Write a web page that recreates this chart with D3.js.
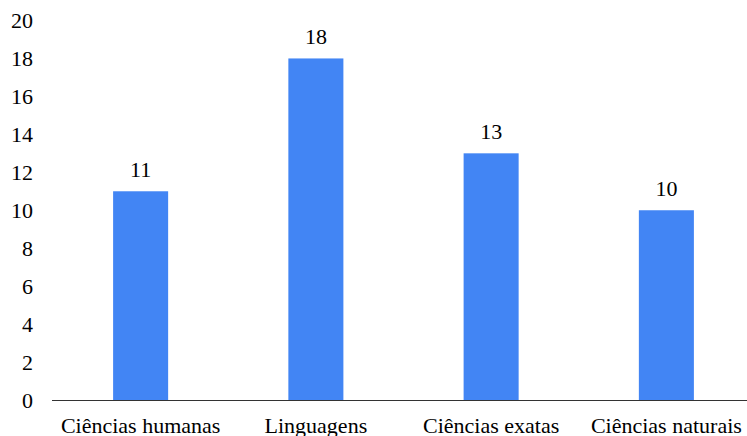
<!DOCTYPE html>
<html><head><meta charset="utf-8">
<script src="https://cdn.jsdelivr.net/npm/d3@7"></script>
</head>
<body style="margin:0;background:#fff">
<svg id="chart" width="747" height="436" font-family="Times New Roman, Tinos, Liberation Serif, serif" font-size="22" style="display:block"></svg>
<script>
const categories = ["Ciências humanas","Linguagens","Ciências exatas","Ciências naturais"];
const values = [11,18,13,10];
const yTicks = [0,2,4,6,8,10,12,14,16,18,20];

const svg = d3.select("#chart");
const x = d3.scaleBand().domain(categories).range([53, 754]).paddingInner(0.686).paddingOuter(0.343);
const y = d3.scaleLinear().domain([0,20]).range([400, 20.5]);

function styleText(sel){
  return sel.style("font-family", "Tinos, 'Times New Roman', 'Liberation Serif', serif").style("font-size","22px").style("fill","#000");
}

// bars
svg.append("g").selectAll("rect").data(values).join("rect")
  .attr("x", (d,i) => x(categories[i])).attr("width", x.bandwidth())
  .attr("y", d => y(d)).attr("height", d => y(0) - y(d))
  .attr("fill","#4285f4");

// x axis line
svg.append("line").attr("x1",52).attr("x2",747).attr("y1",400.5).attr("y2",400.5)
  .attr("stroke","#333").attr("stroke-width",1);

// y tick labels
svg.append("g").selectAll("text").data(yTicks).join("text")
  .call(styleText)
  .attr("x", 33).attr("y", d => y(d)).attr("dy","0.35em")
  .attr("text-anchor","end").text(d => String(d));

// value labels
svg.append("g").selectAll("text").data(values).join("text")
  .call(styleText)
  .attr("x", (d,i) => x(categories[i]) + x.bandwidth()/2)
  .attr("y", d => y(d) - 14)
  .attr("text-anchor","middle").text(d => String(d));

// category labels
svg.append("g").selectAll("text").data(categories).join("text")
  .call(styleText)
  .attr("x", d => x(d) + x.bandwidth()/2).attr("y", 433)
  .attr("text-anchor","middle").text(d => d);
</script>
</body></html>
